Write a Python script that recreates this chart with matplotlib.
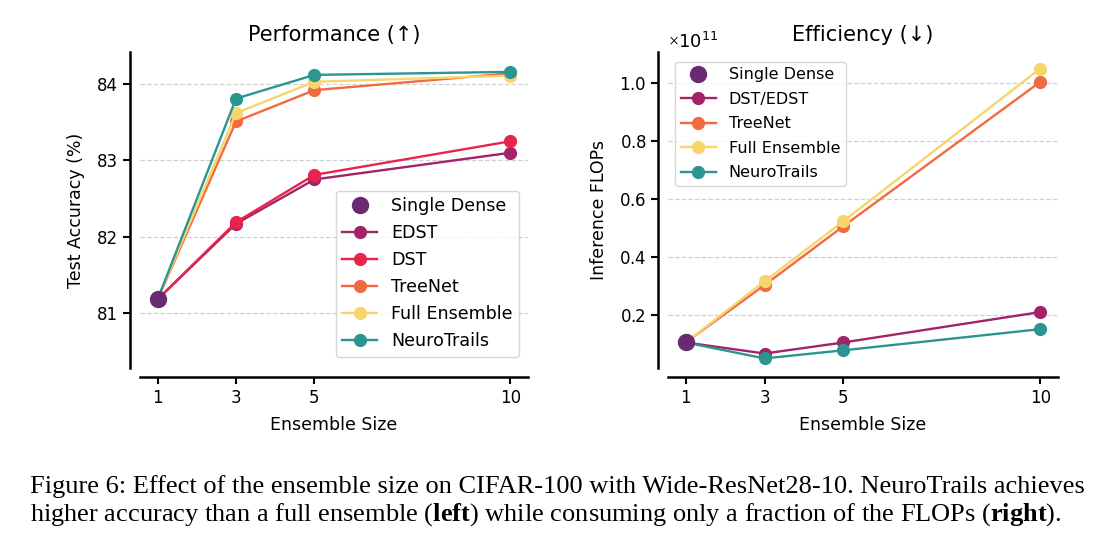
import matplotlib
matplotlib.use("Agg")
import matplotlib.pyplot as plt

# data
sizes = [1, 3, 5, 10]
dense_acc = 81.18
edst_acc = [81.18, 82.17, 82.75, 83.10]
dst_acc = [81.18, 82.19, 82.81, 83.25]
treenet_acc = [81.18, 83.51, 83.92, 84.14]
full_acc = [81.18, 83.62, 84.03, 84.11]
neuro_acc = [81.18, 83.81, 84.12, 84.16]

dense_flops = 0.105e11
dst_flops = [0.105e11, 0.067e11, 0.105e11, 0.210e11]
treenet_flops = [0.105e11, 0.303e11, 0.506e11, 1.004e11]
full_flops = [0.105e11, 0.316e11, 0.523e11, 1.050e11]
neuro_flops = [0.105e11, 0.050e11, 0.078e11, 0.151e11]

c_dense = "#6a2a72"
c_edst = "#a32368"
c_dst = "#e8234c"
c_tree = "#f26a3f"
c_full = "#f6d56c"
c_neuro = "#2b9591"

plt.rcParams["font.family"] = "DejaVu Sans"
plt.rcParams["mathtext.fontset"] = "custom"
plt.rcParams["mathtext.rm"] = "Liberation Serif"
plt.rcParams["mathtext.bf"] = "Liberation Serif:bold"

fig = plt.figure(figsize=(11.17, 5.44), dpi=100)
W, H = 1117, 544
ax1 = fig.add_axes([140 / W, 1 - 368 / H, 388 / W, 316 / H])
ax2 = fig.add_axes([668 / W, 1 - 368 / H, 390 / W, 316 / H])

lw = 1.7
ms = 8.5
fs = 12

def style(ax):
    for s in ["top", "right"]:
        ax.spines[s].set_visible(False)
    ax.spines["left"].set_position(("outward", 7.2))
    ax.spines["bottom"].set_position(("outward", 6.8))
    ax.spines["left"].set_linewidth(1.8)
    ax.spines["bottom"].set_linewidth(1.8)
    ax.tick_params(labelsize=fs, width=1.5, length=5)
    ax.yaxis.grid(True, linestyle="--", color="#d0d0d0", linewidth=0.9)
    ax.set_axisbelow(True)
    ax.set_xticks(sizes)
    ax.set_xlabel("Ensemble Size", fontsize=12.5, labelpad=6)

# left: accuracy
ax1.plot(sizes, edst_acc, "-o", color=c_edst, lw=lw, ms=ms, label="EDST")
ax1.plot(sizes, dst_acc, "-o", color=c_dst, lw=lw, ms=ms, label="DST")
ax1.plot(sizes, treenet_acc, "-o", color=c_tree, lw=lw, ms=ms, label="TreeNet")
ax1.plot(sizes, full_acc, "-o", color=c_full, lw=lw, ms=ms, label="Full Ensemble")
ax1.plot(sizes, neuro_acc, "-o", color=c_neuro, lw=lw, ms=ms, label="NeuroTrails")
ax1.plot([1], [dense_acc], "o", color=c_dense, ms=11.5, label="Single Dense")
ax1.set_ylim(80.28, 84.42)
ax1.set_yticks([81, 82, 83, 84])
ax1.set_ylabel("Test Accuracy (%)", fontsize=12.5, labelpad=9)
ax1.set_title("Performance (↑)", fontsize=15, pad=8)
style(ax1)
h, l = ax1.get_legend_handles_labels()
order = [5, 0, 1, 2, 3, 4]
ax1.legend([h[i] for i in order], [l[i] for i in order], loc="lower right",
           fontsize=12.6, bbox_to_anchor=(0.985, 0.025), borderpad=0.35,
           labelspacing=0.52, handlelength=2.0, borderaxespad=0.2)

# right: flops
ax2.plot(sizes, dst_flops, "-o", color=c_edst, lw=lw, ms=ms, label="DST/EDST")
ax2.plot(sizes, treenet_flops, "-o", color=c_tree, lw=lw, ms=ms, label="TreeNet")
ax2.plot(sizes, full_flops, "-o", color=c_full, lw=lw, ms=ms, label="Full Ensemble")
ax2.plot(sizes, neuro_flops, "-o", color=c_neuro, lw=lw, ms=ms, label="NeuroTrails")
ax2.plot([1], [dense_flops], "o", color=c_dense, ms=11.5, label="Single Dense")
ax2.set_ylim(0.017e11, 1.107e11)
ax2.set_yticks([0.2e11, 0.4e11, 0.6e11, 0.8e11, 1.0e11])
ax2.ticklabel_format(axis="y", style="sci", scilimits=(0, 0), useMathText=True)
ax2.yaxis.get_offset_text().set_fontsize(13)
ax2.set_ylabel("Inference FLOPs", fontsize=12.5, labelpad=8)
ax2.set_title("Efficiency (↓)", fontsize=15, pad=8)
style(ax2)
h, l = ax2.get_legend_handles_labels()
order = [4, 0, 1, 2, 3]
ax2.legend([h[i] for i in order], [l[i] for i in order], loc="upper left",
           fontsize=11.5, bbox_to_anchor=(0.01, 0.98), borderpad=0.35,
           labelspacing=0.6, handlelength=2.2, borderaxespad=0.2)

# caption
cap1 = ("Figure 6: Effect of the ensemble size on CIFAR-100 with Wide-ResNet28-10. "
        "NeuroTrails achieves")
cap2 = (r"higher accuracy than a full ensemble ($\mathbf{left}$) while consuming "
        r"only a fraction of the FLOPs ($\mathbf{right}$).")
fig.text(30 / W, 1 - 487 / H, cap1, family="Liberation Serif", fontsize=19, va="center")
fig.text(30 / W, 1 - 515 / H, cap2, family="Liberation Serif", fontsize=19, va="center")

fig.savefig("out.png", dpi=100)
